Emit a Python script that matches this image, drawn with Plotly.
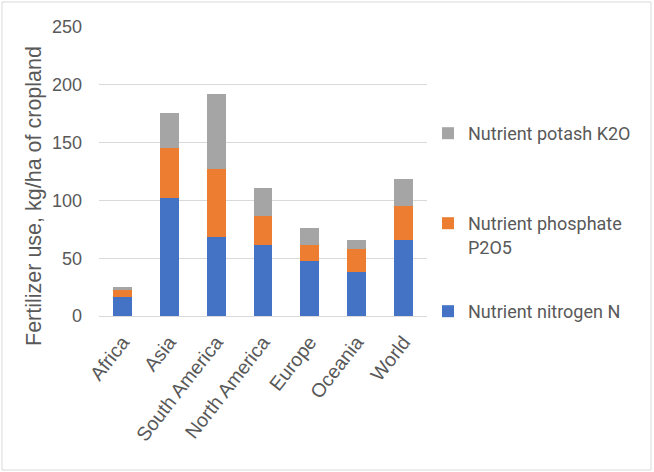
import plotly.graph_objects as go

regions = ["Africa", "Asia", "South America", "North America", "Europe", "Oceania", "World"]
nitrogen = [16.8, 102.4, 68.6, 61.1, 47.7, 37.7, 65.4]
phosphate = [6.1, 42.6, 58.7, 25.2, 13.4, 20.5, 29.8]
potash = [2.6, 30.7, 64.7, 24.7, 14.7, 7.2, 23.2]
y_ticks = [0, 50, 100, 150, 200, 250]

W, H = 654, 472
L, R, T, B = 99, 227, 27, 156
pw, ph = W - L - R, H - T - B

def px_x(x):
    return (x - L) / pw

def px_y(y):
    return (H - B - y) / ph

grey = "#595959"
fig = go.Figure()
fig.add_trace(go.Bar(x=regions, y=nitrogen, name="Nutrient nitrogen N",
                     marker=dict(color="#4472C4", line=dict(width=0)), legend="legend3"))
fig.add_trace(go.Bar(x=regions, y=phosphate, name="Nutrient phosphate<br>P2O5",
                     marker=dict(color="#ED7D31", line=dict(width=0)), legend="legend2"))
fig.add_trace(go.Bar(x=regions, y=potash, name="Nutrient potash K2O",
                     marker=dict(color="#A5A5A5", line=dict(width=0)), legend="legend"))

legfont = dict(family="Roboto", size=18, color=grey)
def leg(ypix):
    return dict(x=px_x(428), y=px_y(ypix), xanchor="left", yanchor="top",
                font=legfont, bgcolor="rgba(0,0,0,0)", valign="top",
                itemwidth=30, tracegroupgap=0)

fig.update_layout(
    width=W, height=H,
    margin=dict(l=L, r=R, t=T, b=B),
    paper_bgcolor="white", plot_bgcolor="white",
    barmode="stack", bargap=0.6,
    showlegend=True,
    legend=leg(115),
    legend2=leg(205),
    legend3=leg(293),
    xaxis=dict(tickangle=-52, tickfont=dict(family="Liberation Sans", size=19.5, color=grey),
               showgrid=False, showline=False, ticks="", ticklabelstandoff=10),
    yaxis=dict(range=[0, 250], tickvals=y_ticks, showgrid=True, gridcolor="#D9D9D9",
               gridwidth=1, zeroline=True, zerolinecolor="#D9D9D9", zerolinewidth=1,
               tickfont=dict(family="Liberation Sans", size=18, color=grey),
               ticks="", ticklabelstandoff=16),
    annotations=[dict(text="Fertilizer use, kg/ha of cropland", textangle=-90,
                      xref="paper", yref="paper", x=px_x(34), y=px_y(196),
                      xanchor="center", yanchor="middle", showarrow=False,
                      font=dict(family="Liberation Sans", size=21.5, color=grey))],
    shapes=[dict(type="rect", xref="paper", yref="paper",
                 x0=px_x(2), x1=px_x(651), y0=px_y(470), y1=px_y(2),
                 line=dict(color="#D9D9D9", width=1), fillcolor="rgba(0,0,0,0)", layer="below")],
)

fig.write_html("out.html", config={"displayModeBar": False},
               post_script="document.body.style.margin='0';document.body.style.overflow='hidden';")
